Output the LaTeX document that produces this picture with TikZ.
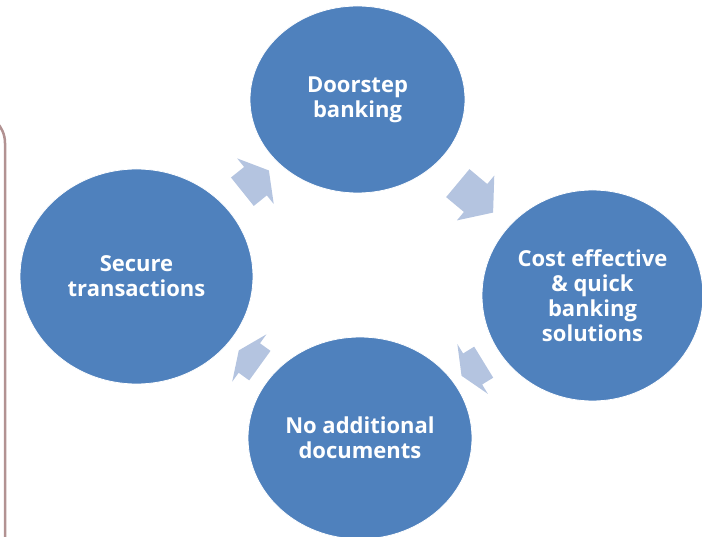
\documentclass[tikz,border=0pt]{standalone}
\usepackage{fontspec}
\setmainfont{Open Sans}
\usetikzlibrary{shapes.geometric, shapes.arrows}

\definecolor{cycleblue}{RGB}{79,129,189}
\definecolor{cyclearrow}{RGB}{180,196,224}
\definecolor{frameline}{RGB}{178,146,146}

\begin{document}
\begin{tikzpicture}[
    x=1pt, y=-1pt,
    stage/.style={ellipse, fill=cycleblue, draw=white, line width=0.8pt, inner sep=0pt,
        align=center, text=white, font=\fontsize{22}{25}\selectfont\bfseries},
    flow/.style={single arrow, fill=cyclearrow, inner xsep=0pt, inner ysep=18pt,
        single arrow head extend=11pt, sloped, allow upside down},
]
    \useasboundingbox (0,0) rectangle (702,537);

    % frame edge on the left
    \draw[frameline, line width=2.5pt, rounded corners=30pt] (-40,113) -| (5,560);

    % the four stages
    \node[stage, minimum width=215pt, minimum height=187pt] (door) at (357.5,99.5) {Doorstep\\banking};
    \node[stage, minimum width=221pt, minimum height=211pt] (cost) at (592.5,295.5) {Cost effective\\\& quick\\banking\\solutions};
    \node[stage, minimum width=224pt, minimum height=202pt] (nodocs) at (360,438) {No additional\\documents};
    \node[stage, minimum width=233pt, minimum height=215pt] (secure) at (136.5,276.5) {Secure\\transactions};

    % cycle arrows, sized to the gap they sit in
    \path (secure) -- node[flow, minimum height=34pt, single arrow tip angle=119] {} (door);
    \path (door) -- node[flow, pos=0.47, minimum height=46pt, single arrow tip angle=104] {} (cost);
    \path (cost) -- node[flow, minimum height=26pt, single arrow tip angle=132] {} (nodocs);
    \path (nodocs) -- node[flow, pos=0.45, minimum height=26pt, single arrow tip angle=132] {} (secure);

\end{tikzpicture}
\end{document}
